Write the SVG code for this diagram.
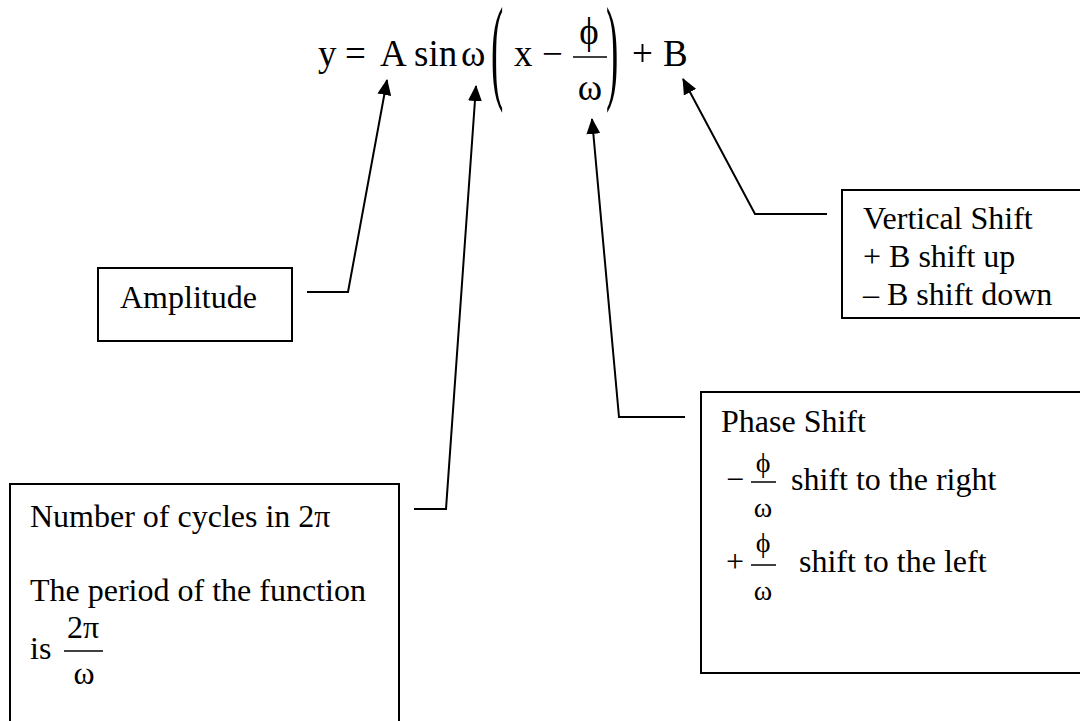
<svg xmlns="http://www.w3.org/2000/svg" width="1080" height="721" viewBox="0 0 1080 721">
<style>
text{font-family:"Liberation Serif","Times New Roman",serif;fill:#000}
.t{font-size:32px}
.eq{font-size:37px}
.fr{font-size:28px}
.box{fill:#fff;stroke:#000;stroke-width:2}
.bar{stroke:#000;stroke-width:1.5}
.conn{fill:none;stroke:#000;stroke-width:2}
</style>
<defs>
<marker id="arr" markerUnits="userSpaceOnUse" viewBox="0 0 16 14" refX="15" refY="7" markerWidth="16" markerHeight="14" orient="auto">
<path d="M0,0 L16,7 L0,14 z" fill="#000"/>
</marker>
</defs>
<rect width="1080" height="721" fill="#fff"/>
<g id="equation">
<text class="eq" x="318" y="66">y</text>
<text class="eq" x="345" y="66">=</text>
<text class="eq" x="380" y="66">A</text>
<text class="eq" x="414" y="66">sin</text>
<text class="eq" x="461" y="66">ω</text>
<text class="eq" transform="translate(491,87.5) scale(1,3.15)" x="0" y="0">(</text>
<text class="eq" x="514" y="66">x</text>
<text class="eq" x="542" y="66">−</text>
<text class="eq" x="589" y="44" text-anchor="middle">ϕ</text>
<line class="bar" x1="573" y1="57" x2="607" y2="57"/>
<text class="eq" x="590" y="100" text-anchor="middle">ω</text>
<text class="eq" transform="translate(606,87.5) scale(1,3.15)" x="0" y="0">)</text>
<text class="eq" x="632" y="66">+</text>
<text class="eq" x="663" y="66">B</text>
</g>
<g id="connectors">
<polyline class="conn" points="307,292 348,292 387,80" marker-end="url(#arr)"/>
<polyline class="conn" points="414,509 446,509 476,86" marker-end="url(#arr)"/>
<polyline class="conn" points="685,417 619,417 592,119" marker-end="url(#arr)"/>
<polyline class="conn" points="827,214 755,214 683,79" marker-end="url(#arr)"/>
</g>
<g id="amplitude">
<rect class="box" x="98" y="268" width="194" height="73"/>
<text class="t" x="120" y="308">Amplitude</text>
</g>
<g id="vertical-shift">
<rect class="box" x="842" y="190" width="250" height="128"/>
<text class="t" x="863" y="229">Vertical Shift</text>
<text class="t" x="863" y="267">+ B shift up</text>
<text class="t" x="863" y="305">– B shift down</text>
</g>
<g id="cycles">
<rect class="box" x="10" y="484" width="389" height="250"/>
<text class="t" x="30" y="527">Number of cycles in 2π</text>
<text class="t" x="30" y="601">The period of the function</text>
<text class="t" x="30" y="659">is</text>
<text class="t" x="83" y="638" text-anchor="middle">2π</text>
<line class="bar" x1="64" y1="651" x2="103" y2="651"/>
<text class="t" x="84" y="684" text-anchor="middle">ω</text>
</g>
<g id="phase-shift">
<rect class="box" x="701" y="392" width="390" height="281"/>
<text class="t" x="721" y="432">Phase Shift</text>
<text class="t" x="726" y="490">−</text>
<text class="fr" x="763" y="472" text-anchor="middle">ϕ</text>
<line class="bar" x1="751" y1="482" x2="776" y2="482"/>
<text class="fr" x="763" y="517" text-anchor="middle">ω</text>
<text class="t" x="791" y="490">shift to the right</text>
<text class="t" x="726" y="572">+</text>
<text class="fr" x="763" y="552" text-anchor="middle">ϕ</text>
<line class="bar" x1="751" y1="565" x2="776" y2="565"/>
<text class="fr" x="763" y="600" text-anchor="middle">ω</text>
<text class="t" x="799" y="572">shift to the left</text>
</g>
</svg>
